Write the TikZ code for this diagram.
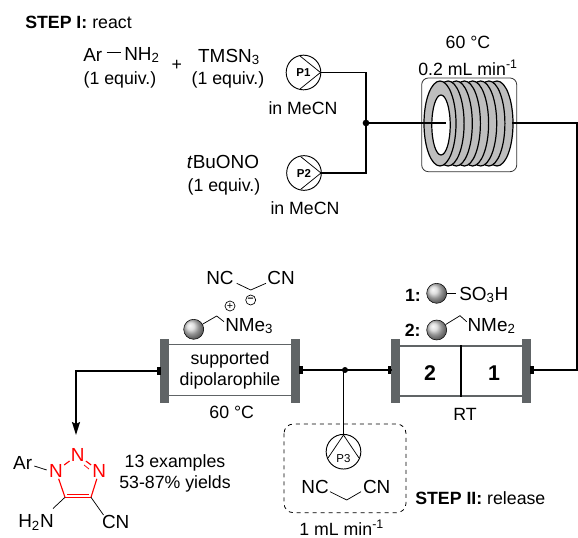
\documentclass[tikz,border=0pt]{standalone}
\usepackage{fontspec}
\setmainfont{Liberation Sans}
\usepackage{tikz}
\usetikzlibrary{graphs}
\usetikzlibrary{arrows.meta}
\usetikzlibrary{shadings}
\definecolor{flangegray}{RGB}{96,100,102}
\definecolor{coilgray}{RGB}{190,190,190}
\tikzset{
    lbl/.style={inner sep=0pt, font=\fontsize{13.3}{15}\selectfont},
    chem/.style={inner sep=0pt, font=\fontsize{14.2}{16}\selectfont},
    wire/.style={line width=1.2pt, line cap=rect},
    thinwire/.style={line width=0.7pt, line cap=rect},
    bond/.style={line width=0.55pt},
    redbond/.style={line width=0.85pt, draw=red},
    dot/.style={circle, fill=black, inner sep=0pt, minimum size=5pt},
    pump/.style={circle, draw, line width=0.7pt, inner sep=0pt, minimum size=26pt, font=\fontsize{8.6}{9}\selectfont\bfseries},
    bead/.style={circle, draw, line width=0.4pt, inner sep=0pt, minimum size=15pt, ball color=gray!35},
    chg/.style={circle, draw, line width=0.5pt, inner sep=0pt, minimum size=7.5pt, font=\fontsize{8}{8}\selectfont},
    wall/.style={line width=0.9pt, draw=flangegray},
    stub/.style={fill=black, inner sep=0pt, minimum width=2.5pt, minimum height=6pt},
    redat/.style={chem, text=red, outer sep=1pt}
}
\begin{document}
\begin{tikzpicture}[x=0.75pt, y=-0.75pt]
    \useasboundingbox (0,0) rectangle (578,538);

    % coil
    \draw[line width=0.6pt, draw=black!80, rounded corners=5pt] (421.7,78) rectangle (516.7,171.7);
    \foreach \cx in {497,488.9,480.7,472.6,464.4,456.3,448.1,440}
        \draw[fill=coilgray, line width=0.9pt] (\cx,123.5) ellipse [x radius=16, y radius=42.5];
    \draw[fill=white, line width=0.9pt] (441,125) ellipse [x radius=9.2, y radius=30];

    % columns
    \fill[flangegray] (160,339) rectangle (169,402.7);
    \fill[flangegray] (290.7,339) rectangle (300,402.7);
    \fill[flangegray] (390.7,339) rectangle (400,403);
    \fill[flangegray] (521.7,339) rectangle (531,403);
    \draw[wall] (169,344.7) -- (290.7,344.7);
    \draw[wall] (169,395.3) -- (290.7,395.3);
    \draw[wall] (400,346) -- (521.7,346);
    \draw[wall] (400,396) -- (521.7,396);

    \node[pump] (p1) at (303.5,72.5) {P1};
    \node[pump] (p2) at (304,173) {P2};
    \node[pump] (p3) at (343.5,451.7) {};
    \node[font=\fontsize{8.6}{9}\selectfont, inner sep=0pt] (p3_lbl) at (343.5,458.5) {P3};
    \node[dot] (mix) at (366,123) {};
    \node[dot, minimum size=4.5pt] (tee) at (345,370) {};
    \coordinate (p1_r) at (320.5,72.5);
    \coordinate (p2_r) at (321,173);
    \coordinate (p1_c) at (366,72.5);
    \coordinate (p2_c) at (366,173);
    \coordinate (coil_in) at (445,123);
    \coordinate (coil_out) at (513,123);
    \coordinate (out_c) at (577,123);
    \coordinate (out_d) at (577,370);
    \coordinate (col1_r) at (531,370);
    \coordinate (col2_l) at (390.7,370);
    \coordinate (col3_r) at (300,370);
    \coordinate (col3_l) at (160,370.7);
    \coordinate (drop_c) at (76,370.7);
    \coordinate (drop_e) at (76,435);
    \coordinate (p3_t) at (343.5,435);
    \coordinate (p3_tee) at (343.5,370);
    \coordinate (div_t) at (461,346);
    \coordinate (div_b) at (461,396);

    % pump triangles
    \coordinate (p1_a) at (300,56);
    \coordinate (p1_b) at (300,89);
    \coordinate (p2_a) at (300.5,156.5);
    \coordinate (p2_b) at (300.5,189.5);
    \coordinate (p3_a) at (328,458);
    \coordinate (p3_b) at (359,458);
    \graph {(p1_a) --[bond] (p1_r) --[bond] (p1_b)};
    \graph {(p2_a) --[bond] (p2_r) --[bond] (p2_b)};
    \graph {(p3_a) --[bond] (p3_t) --[bond] (p3_b)};

    \graph {(p1_r) --[wire] (p1_c) --[wire] (p2_c) --[wire] (p2_r)};
    \graph {(mix) --[wire] (coil_in)};
    \graph {(coil_out) --[wire] (out_c) --[wire] (out_d) --[wire] (col1_r)};
    \graph {(col2_l) --[wire] (col3_r)};
    \graph {(p3_tee) --[thinwire] (p3_t)};
    \graph {(div_t) --[wire] (div_b)};
    \graph {(col3_l) --[wire] (drop_c)};
    \graph {(drop_c) ->[wire, line cap=butt, -{Stealth[length=13*0.75pt, width=8*0.75pt, inset=2*0.75pt]}] (drop_e)};

    \node[stub] (s1) at (532,370) {};
    \node[stub] (s2) at (389.5,370) {};
    \node[stub] (s3) at (301,370) {};
    \node[stub] (s4) at (159,370.7) {};

    % dashed box
    \draw[dashed, line width=0.6pt, rounded corners=7pt] (284,424) rectangle (406,512.7);

    \node[lbl, anchor=west] (step1) at (25,22.7) {\textbf{STEP I:} react};
    \node[chem, anchor=west] (ar) at (83,55) {Ar};
    \node[chem, anchor=west] (nh2) at (124,55) {NH\textsubscript{2}};
    \node[lbl] (eq1) at (120,80) {(1 equiv.)};
    \node[lbl] (plus) at (176.7,65) {+};
    \node[chem] (tmsn3) at (229,57) {TMSN\textsubscript{3}};
    \node[lbl] (eq2) at (228,80) {(1 equiv.)};
    \node[chem] (tbuono) at (223,162) {\textit{t}BuONO};
    \node[lbl] (eq3) at (224,186.7) {(1 equiv.)};
    \node[lbl] (mecn1) at (303,108) {in MeCN};
    \node[lbl] (mecn2) at (305,208) {in MeCN};
    \node[lbl] (temp1) at (468,42.7) {60 °C};
    \node[lbl] (flow1) at (468,68) {0.2 mL min\textsuperscript{-1}};
    \coordinate (ar_e) at (106.7,52.3);
    \coordinate (nh2_w) at (120.7,52.3);
    \graph {(ar_e) --[bond] (nh2_w)};

    \node[lbl] (reag1) at (413,295) {\textbf{1:}};
    \node[bead] (bead1) at (436.7,293.3) {};
    \node[chem, anchor=west] (so3h) at (459,295) {SO\textsubscript{3}H};
    \coordinate (so3h_w) at (455.5,293.3);
    \graph {(bead1) --[bond] (so3h_w)};
    \node[lbl] (reag2) at (412.7,330) {\textbf{2:}};
    \node[bead] (bead2) at (436.7,330) {};
    \coordinate (bend2) at (460,315.7);
    \coordinate (nme2_w) at (466.7,321.7);
    \node[chem, anchor=west] (nme2) at (467.3,326) {NMe\textsubscript{2}};
    \graph {(bead2) --[bond] (bend2) --[bond] (nme2_w)};
    \node[lbl] (cart2) at (430,372.7) {\fontsize{16}{16}\selectfont\textbf{2}};
    \node[lbl] (cart1) at (494,372.7) {\fontsize{16}{16}\selectfont\textbf{1}};
    \node[lbl] (rt) at (465,414) {RT};

    \node[bead] (bead3) at (193.7,329.3) {};
    \coordinate (bend3) at (216.7,316);
    \coordinate (nme3_w) at (224,321.7);
    \node[chem, anchor=west] (nme3) at (225,326) {NMe\textsubscript{3}};
    \graph {(bead3) --[bond] (bend3) --[bond] (nme3_w)};
    \node[chg] (plusc) at (230,306) {+};
    \node[chg] (minusc) at (250.7,300) {\textbf{–}};
    \node[chem] (nc1) at (220,278) {NC};
    \node[chem] (cn1) at (281,278) {CN};
    \coordinate (nc1_e) at (236.7,283.3);
    \coordinate (cn1_w) at (266,283.3);
    \coordinate (ch1) at (250.7,290);
    \graph {(nc1_e) --[bond] (ch1) --[bond] (cn1_w)};
    \node[lbl] (sup1) at (230,360) {supported};
    \node[lbl] (sup2) at (230,380.7) {dipolarophile};
    \node[lbl] (temp2) at (231.7,412) {60 °C};

    \node[chem] (nc2) at (315,487) {NC};
    \node[chem] (cn2) at (376.7,487) {CN};
    \coordinate (nc2_e) at (330,491.7);
    \coordinate (cn2_w) at (361,491.7);
    \coordinate (ch2) at (346.7,500);
    \graph {(nc2_e) --[bond] (ch2) --[bond] (cn2_w)};
    \node[lbl, anchor=base] (flow2) at (341.7,535.5) {1 mL min\textsuperscript{-1}};
    \node[lbl, anchor=west] (step2) at (415,498) {\textbf{STEP II:} release};

    % triazole
    \node[chem] (arp) at (22.7,463.3) {Ar};
    \node[redat] (n1) at (56,471) {N};
    \node[redat] (n2) at (77.7,455) {N};
    \node[redat] (n3) at (99.3,471) {N};
    \coordinate (c5) at (65,497.3);
    \coordinate (c4) at (91,497.3);
    \node[chem] (h2n) at (36,522.3) {H\textsubscript{2}N};
    \node[chem] (cnp) at (115.7,522.3) {CN};
    \coordinate (arp_e) at (34.3,466);
    \coordinate (n1_w) at (46.7,470);
    \coordinate (h2n_e) at (53,508.5);
    \coordinate (cnp_w) at (103.5,515);
    \graph {(arp_e) --[bond] (n1_w)};
    \graph {(n1) --[redbond] (n2)};
    \graph {(n2) --[redbond] (n3)};
    \graph {(n3) --[redbond] (c4) --[redbond] (c5) --[redbond] (n1)};
    \coordinate (c5b) at (67,494.3);
    \coordinate (c4b) at (89,494.3);
    \coordinate (n2b) at (84,465);
    \coordinate (n3b) at (89,469);
    \graph {(c5b) --[bond, draw=red] (c4b)};
    \graph {(n2b) --[bond, draw=red] (n3b)};
    \graph {(c5) --[bond] (h2n_e)};
    \graph {(c4) --[bond] (cnp_w)};
    \node[lbl] (ex1) at (175,463.3) {13 examples};
    \node[lbl] (ex2) at (175,484) {53-87\% yields};
\end{tikzpicture}
\end{document}
